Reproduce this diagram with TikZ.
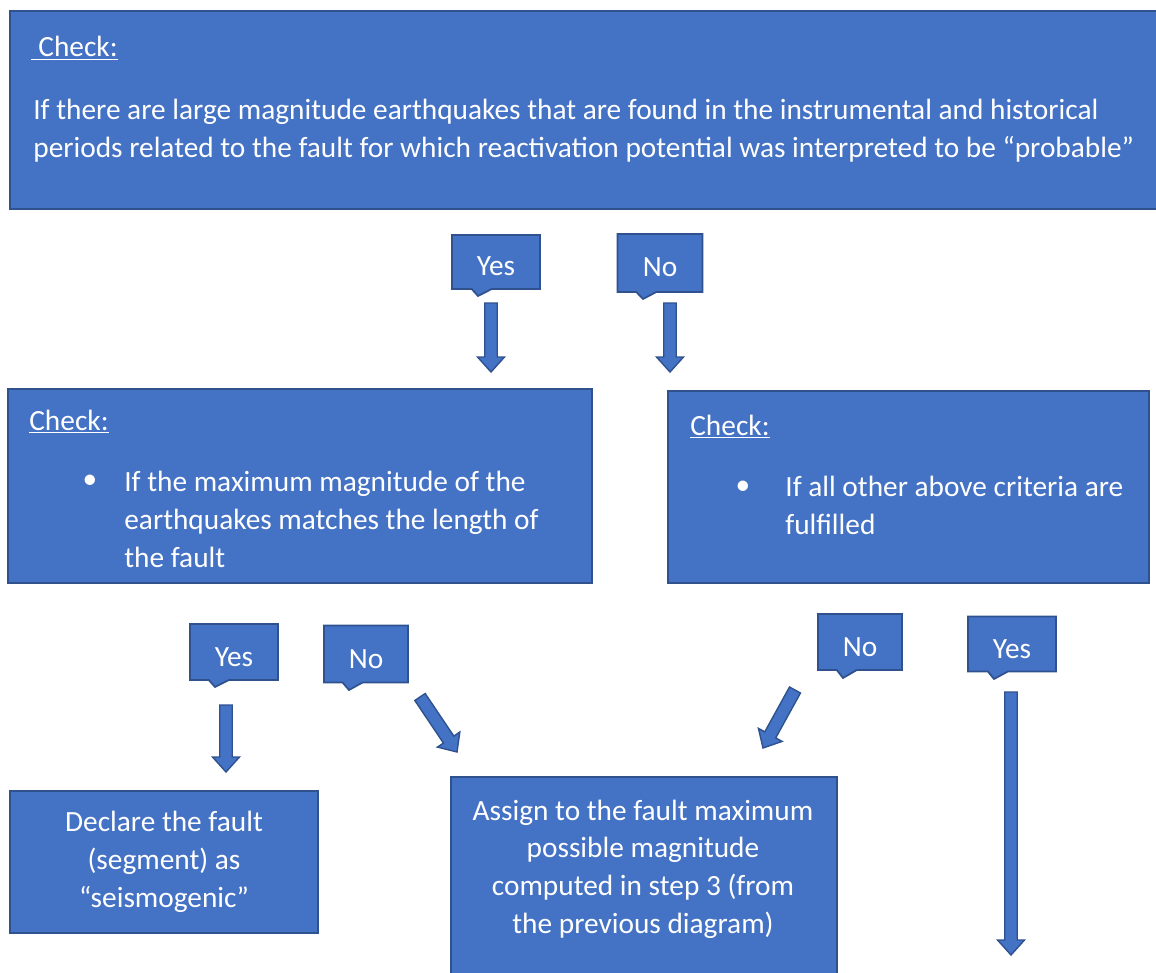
\documentclass[tikz,border=0pt]{standalone}
\usepackage{fontspec}
\setmainfont{Carlito}
\usetikzlibrary{calc,positioning,shapes.callouts}
\definecolor{boxblue}{HTML}{4472C4}
\definecolor{boxedge}{HTML}{2F528F}

\newcommand{\blockarrow}[2]{%
  \coordinate (#1-h) at ($(#2)!0.3cm!(#1)$);
  \filldraw[ArrowStyle] ($(#1)!0.125cm!90:(#2)$) -- ($(#1-h)!0.125cm!90:(#2)$)
    -- ($(#1-h)!0.27cm!90:(#2)$) -- (#2) -- ($(#1-h)!0.27cm!-90:(#2)$)
    -- ($(#1-h)!0.125cm!-90:(#2)$) -- ($(#1)!0.125cm!-90:(#2)$) -- cycle;}

\begin{document}
\begin{tikzpicture}[x=0.02cm, y=-0.02cm]
  \tikzset{BoxStyle/.style     = {shape        = rectangle,
                                  fill         = boxblue,
                                  draw         = boxedge,
                                  line width   = 1pt,
                                  inner sep    = 0pt,
                                  text         = white,
                                  font         = \fontsize{16.7}{21.5}\selectfont},
           CalloutStyle/.style = {BoxStyle,
                                  rectangle callout,
                                  callout absolute pointer = {#1},
                                  callout pointer width    = 0.4cm,
                                  text height = 0.56cm, text depth = 0cm},
           TextStyle/.style    = {text = white, inner sep = 0pt,
                                  font = \fontsize{16.7}{21.5}\selectfont},
           ArrowStyle/.style   = {fill = boxblue, draw = boxedge,
                                  line width = 0.8pt, line join = miter}}
  \useasboundingbox (0,0) rectangle (1156,973);
  %%% TOP CHECK %%%
  \node[BoxStyle, anchor=north west, minimum width=23.12cm, minimum height=3.96cm](top) at (9,10){};
  \node[TextStyle, anchor=base west](topchk) at (31,57){\underline{\kern4pt Check:}};
  \node[TextStyle, anchor=north west, align=left](toptxt) at (33,99){If there are large magnitude earthquakes that are found in the instrumental and historical\\
    periods related to the fault for which reactivation potential was interpreted to be “probable”};
  %%% FIRST ANSWERS %%%
  \node[CalloutStyle={(478,296)}, minimum width=1.76cm, minimum height=1.08cm](yA) at (496,262){Yes};
  \node[CalloutStyle={(643,299)}, minimum width=1.70cm, minimum height=1.16cm](nA) at (660,263){No};
  \coordinate (yAs) at (491,303); \coordinate (yAe) at (491,372);
  \coordinate (nAs) at (670,303); \coordinate (nAe) at (670,372);
  \blockarrow{yAs}{yAe}
  \blockarrow{nAs}{nAe}
  %%% LEFT CHECK %%%
  \node[BoxStyle, anchor=north west, minimum width=11.68cm, minimum height=3.88cm](lchk) at (7,388){};
  \node[TextStyle, anchor=base west](lchkt) at (29,430){\underline{Check:}};
  \node[TextStyle](lbul) at (90,482){•};
  \node[TextStyle, anchor=north west, align=left](ltxt) at (124,471){If the maximum magnitude of the\\
    earthquakes matches the length of\\the fault};
  %%% RIGHT CHECK %%%
  \node[BoxStyle, anchor=north west, minimum width=9.62cm, minimum height=3.84cm](rchk) at (667,390){};
  \node[TextStyle, anchor=base west](rchkt) at (690,435){\underline{Check:}};
  \node[TextStyle](rbul) at (743,488){•};
  \node[TextStyle, anchor=north west, align=left](rtxt) at (785,476){If all other above criteria are\\fulfilled};
  %%% SECOND ANSWERS %%%
  \node[CalloutStyle={(215,687)}, minimum width=1.76cm, minimum height=1.12cm](yB) at (234,652){Yes};
  \node[CalloutStyle={(349,690)}, minimum width=1.68cm, minimum height=1.14cm](nB) at (366,654){No};
  \node[CalloutStyle={(843,678)}, minimum width=1.68cm, minimum height=1.12cm](nC) at (860,642){No};
  \node[CalloutStyle={(994,679)}, minimum width=1.76cm, minimum height=1.10cm](yC) at (1012,644){Yes};
  \coordinate (yBs) at (226,705);  \coordinate (yBe) at (226,772);
  \coordinate (nBs) at (420,697);  \coordinate (nBe) at (457,752);
  \coordinate (nCs) at (795,690);  \coordinate (nCe) at (763,748);
  \coordinate (yCs) at (1011,692); \coordinate (yCe) at (1011,955);
  \blockarrow{yBs}{yBe}
  \blockarrow{nBs}{nBe}
  \blockarrow{nCs}{nCe}
  \blockarrow{yCs}{yCe}
  %%% RESULTS %%%
  \node[BoxStyle, align=center, minimum width=6.16cm, minimum height=2.84cm](decl) at (164,862){Declare the fault\\(segment) as\\“seismogenic”};
  \node[BoxStyle, anchor=north west, minimum width=7.72cm, minimum height=4.38cm](asgn) at (450,776){};
  \node[TextStyle, align=center](asgnt) at (643,869){Assign to the fault maximum\\possible magnitude\\computed in step 3 (from\\the previous diagram)};
\end{tikzpicture}
\end{document}
